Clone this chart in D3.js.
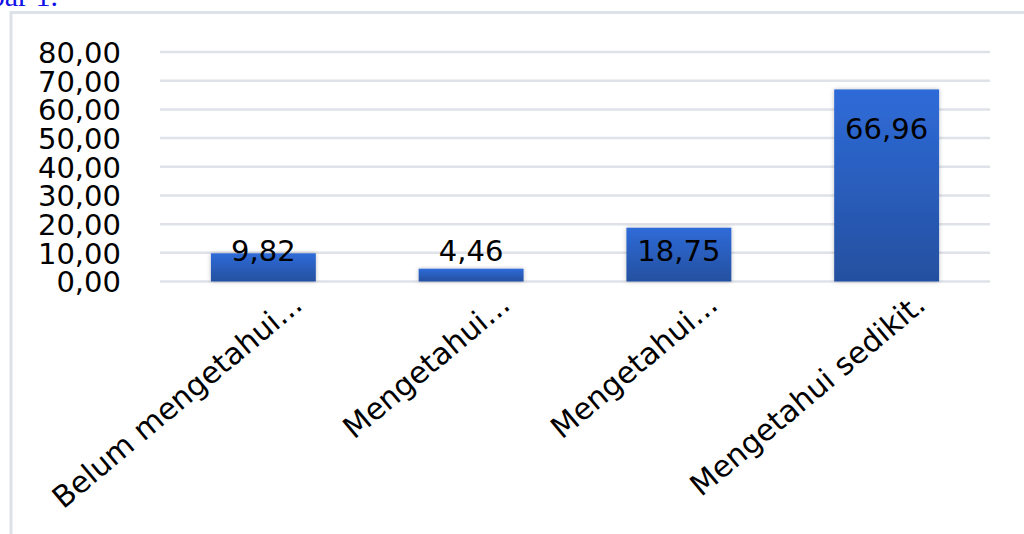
<!DOCTYPE html>
<html>
<head>
<meta charset="utf-8">
<script src="https://cdn.jsdelivr.net/npm/d3@7"></script>
<style>
  html, body { margin: 0; padding: 0; background: #fff; }
  svg { display: block; }
</style>
</head>
<body>
<svg id="chart" width="1024" height="534"></svg>
<script>
const categories = ["Belum mengetahui...", "Mengetahui...", "Mengetahui...", "Mengetahui sedikit."];
const values = [9.82, 4.46, 18.75, 66.96];
const yTicks = [0, 10, 20, 30, 40, 50, 60, 70, 80];
const captionText = "Gambar 1.";

const svg = d3.select("#chart");
const W = 1024, H = 534;

// caption (cut off at top, as in the reference)
svg.append("text")
  .attr("x", 58).attr("y", 6)
  .attr("text-anchor", "end")
  .attr("font-family", "Liberation Serif, serif")
  .attr("font-size", 30)
  .attr("fill", "#1010e8")
  .text(captionText);

// chart frame (top + left border)
svg.append("path")
  .attr("d", `M11,${H} L11,12.5 L${W},12.5`)
  .attr("fill", "none")
  .attr("stroke", "#dde1e8")
  .attr("stroke-width", 3);

const x = d3.scaleBand()
  .domain(d3.range(categories.length))
  .range([160, 990])
  .paddingInner(0.495)
  .paddingOuter(0.245);

const y = d3.scaleLinear().domain([0, 80]).range([281.5, 52]);

const fmt = v => d3.format(".2f")(v).replace(".", ",");

// gridlines
svg.append("g")
  .selectAll("line")
  .data(yTicks)
  .join("line")
  .attr("x1", 160).attr("x2", 990)
  .attr("y1", d => y(d)).attr("y2", d => y(d))
  .attr("stroke", "#dfe2e8")
  .attr("stroke-width", 2.5);

// y axis labels
const yAxis = d3.axisLeft(y).tickValues(yTicks).tickFormat(fmt).tickSize(0).tickPadding(0);
const yg = svg.append("g").attr("transform", "translate(121,0)").call(yAxis);
yg.select(".domain").remove();
yg.selectAll("text")
  .attr("font-family", "DejaVu Sans, sans-serif")
  .attr("font-size", 29)
  .attr("fill", "#000")
  .attr("dy", "0.36em");

// gradient
const defs = svg.append("defs");
const grad = defs.append("linearGradient")
  .attr("id", "barGrad").attr("x1", 0).attr("y1", 0).attr("x2", 0).attr("y2", 1);
grad.append("stop").attr("offset", "0%").attr("stop-color", "#2f6bd8");
grad.append("stop").attr("offset", "100%").attr("stop-color", "#24509f");
const filt = defs.append("filter").attr("id", "shadow")
  .attr("x", "-20%").attr("y", "-20%").attr("width", "140%").attr("height", "140%");
filt.append("feDropShadow").attr("dx", 0).attr("dy", 0).attr("stdDeviation", 2)
  .attr("flood-color", "#000").attr("flood-opacity", 0.25);

// bars
svg.append("g")
  .selectAll("rect")
  .data(values)
  .join("rect")
  .attr("x", (d, i) => x(i))
  .attr("width", x.bandwidth())
  .attr("y", d => y(d))
  .attr("height", d => y(0) - y(d))
  .attr("fill", "url(#barGrad)")
  .attr("filter", "url(#shadow)");

// value labels
svg.append("g")
  .selectAll("text")
  .data(values)
  .join("text")
  .attr("x", (d, i) => x(i) + x.bandwidth() / 2)
  .attr("y", d => Math.min(y(d) + 50, y(0) - 21))
  .attr("text-anchor", "middle")
  .attr("font-family", "DejaVu Sans, sans-serif")
  .attr("font-size", 29)
  .attr("fill", "#000")
  .text(d => fmt(d));

// category labels
const xAxis = d3.axisBottom(x).tickFormat(i => categories[i]).tickSize(0).tickPadding(0);
const xg = svg.append("g").attr("transform", `translate(0,${y(0)})`).call(xAxis);
xg.select(".domain").remove();
xg.selectAll("text")
  .attr("font-family", "DejaVu Sans, sans-serif")
  .attr("font-size", 30)
  .attr("fill", "#000")
  .attr("text-anchor", "end")
  .attr("dy", "0.35em")
  .attr("transform", "translate(34,18) rotate(-40)");
</script>
</body>
</html>
